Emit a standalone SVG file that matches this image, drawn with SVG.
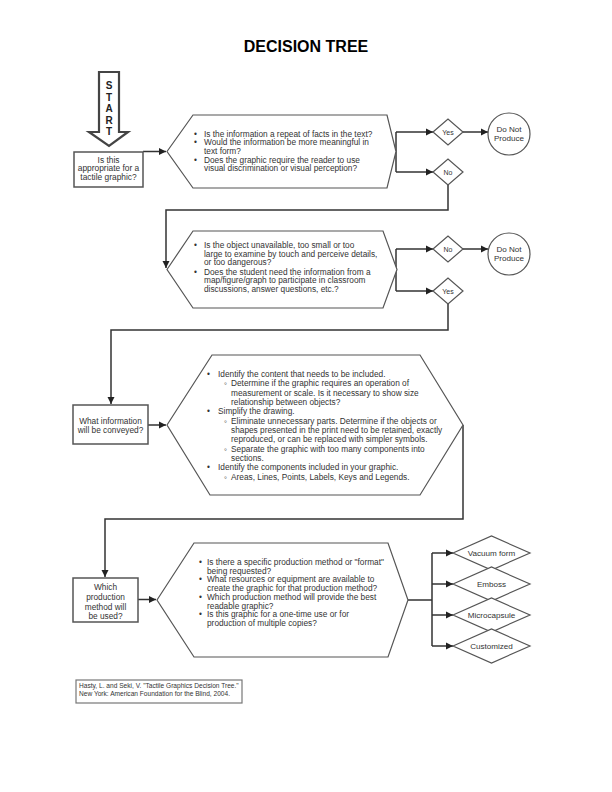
<svg xmlns="http://www.w3.org/2000/svg" width="612" height="792" viewBox="0 0 612 792">
<style>
text{font-family:"Liberation Sans",Arial,sans-serif;fill:#333}
.box{fill:#fff;stroke:#555;stroke-width:1.5}
.hex{fill:#fff;stroke:#555;stroke-width:1.2}
.dia{fill:#fff;stroke:#555;stroke-width:1.2}
.con{fill:none;stroke:#333;stroke-width:1.5}
.t{font-size:8.3px}
.b{font-size:8.4px}
.d{font-size:7px}
.p{font-size:8.1px}
.c{text-anchor:middle}
</style>
<defs>
<marker id="ah" viewBox="0 0 10 10" refX="10" refY="5" markerWidth="5" markerHeight="5" orient="auto" markerUnits="strokeWidth">
<path d="M0,0 L10,5 L0,10 z" fill="#222"/>
</marker>
</defs>
<rect width="612" height="792" fill="#fff"/>
<text x="306" y="52" class="c" style="font-size:16px;font-weight:bold;fill:#000">DECISION TREE</text>

<g id="start">
<polygon points="99,72 119,72 119,132 128,132 109,146 89,132 99,132" fill="#fff" stroke="#444" stroke-width="2.2"/>
<g style="font-size:10px;font-weight:bold" class="c">
<text x="109" y="89" style="fill:#222">S</text>
<text x="109" y="100.5" style="fill:#222">T</text>
<text x="109" y="112" style="fill:#222">A</text>
<text x="109" y="123.5" style="fill:#222">R</text>
<text x="109" y="135" style="fill:#222">T</text>
</g>
</g>

<g id="connectors">
<path class="con" d="M143,151.5 H166" marker-end="url(#ah)"/>
<path class="con" d="M396,132 V172"/>
<path class="con" d="M396,132 H433" marker-end="url(#ah)"/>
<path class="con" d="M396,172 H433" marker-end="url(#ah)"/>
<path class="con" d="M463,132 H488" marker-end="url(#ah)"/>
<path class="con" d="M448,185 V210 H166 V268" marker-end="url(#ah)"/>
<path class="con" d="M396,249 V291"/>
<path class="con" d="M396,249 H433" marker-end="url(#ah)"/>
<path class="con" d="M396,291 H433" marker-end="url(#ah)"/>
<path class="con" d="M463,249 H488" marker-end="url(#ah)"/>
<path class="con" d="M448,304 V330 H111 V404" marker-end="url(#ah)"/>
<path class="con" d="M148,425 H166" marker-end="url(#ah)"/>
<path class="con" d="M463,425 V519 H105 V577" marker-end="url(#ah)"/>
<path class="con" d="M138,599.5 H156" marker-end="url(#ah)"/>
<path class="con" d="M408,600 H432 M432,553 V646"/>
<path class="con" d="M432,553 H453" marker-end="url(#ah)"/>
<path class="con" d="M432,584 H453" marker-end="url(#ah)"/>
<path class="con" d="M432,615 H453" marker-end="url(#ah)"/>
<path class="con" d="M432,646 H453" marker-end="url(#ah)"/>
</g>

<g id="q1">
<rect class="box" x="74" y="152" width="69" height="35"/>
<text class="b c" x="108.5" y="162.5">Is this</text>
<text class="b c" x="108.5" y="171">appropriate for a</text>
<text class="b c" x="108.5" y="179.5">tactile graphic?</text>
</g>

<g id="hex1">
<polygon class="hex" points="167,151.5 193,115 387,115 396,151.5 387,188 193,188"/>
<text class="t" x="194" y="136.5">•</text>
<text class="t" x="204" y="136.5">Is the information a repeat of facts in the text?</text>
<text class="t" x="194" y="145">•</text>
<text class="t" x="204" y="145">Would the information be more meaningful in</text>
<text class="t" x="204" y="153.5">text form?</text>
<text class="t" x="194" y="162.5">•</text>
<text class="t" x="204" y="162.5">Does the graphic require the reader to use</text>
<text class="t" x="204" y="171">visual discrimination or visual perception?</text>
</g>

<g id="yes1">
<polygon class="dia" points="433,132 448,119 463,132 448,145"/>
<text class="d c" x="448" y="134.5">Yes</text>
</g>
<g id="no1">
<polygon class="dia" points="433,172 448,159 463,172 448,185"/>
<text class="d c" x="448" y="174.5">No</text>
</g>
<g id="dnp1">
<circle cx="509" cy="134" r="21" fill="#fff" stroke="#555" stroke-width="1.2"/>
<text class="p c" x="509" y="131.5">Do Not</text>
<text class="p c" x="509" y="140.5">Produce</text>
</g>

<g id="hex2">
<polygon class="hex" points="167,269.5 193,231 383,231 397,269.5 383,308 193,308"/>
<text class="t" x="194" y="248">•</text>
<text class="t" x="204" y="248">Is the object unavailable, too small or too</text>
<text class="t" x="204" y="256.5">large to examine by touch and perceive details,</text>
<text class="t" x="204" y="265">or too dangerous?</text>
<text class="t" x="194" y="274.5">•</text>
<text class="t" x="204" y="274.5">Does the student need the information from a</text>
<text class="t" x="204" y="283">map/figure/graph to participate in classroom</text>
<text class="t" x="204" y="291.5">discussions, answer questions, etc.?</text>
</g>

<g id="no2">
<polygon class="dia" points="433,249 448,236 463,249 448,262"/>
<text class="d c" x="448" y="251.5">No</text>
</g>
<g id="yes2">
<polygon class="dia" points="433,291 448,278 463,291 448,304"/>
<text class="d c" x="448" y="293.5">Yes</text>
</g>
<g id="dnp2">
<circle cx="509" cy="254" r="21" fill="#fff" stroke="#555" stroke-width="1.2"/>
<text class="p c" x="509" y="251.5">Do Not</text>
<text class="p c" x="509" y="260.5">Produce</text>
</g>

<g id="q3">
<rect class="box" x="73" y="405" width="75" height="39"/>
<text class="t c" x="110.5" y="423.5">What information</text>
<text class="t c" x="110.5" y="433">will be conveyed?</text>
</g>

<g id="hex3">
<polygon class="hex" points="167,425 212,355 420,355 463,425 420,495 210,495"/>
<g class="t">
<text x="207" y="376.5">•</text><text x="218" y="376.5">Identify the content that needs to be included.</text>
<text x="224" y="386">◦</text><text x="231" y="386">Determine if the graphic requires an operation of</text>
<text x="231" y="395.5">measurement or scale.  Is it necessary to show size</text>
<text x="231" y="404.5">relationship between objects?</text>
<text x="207" y="414">•</text><text x="218" y="414">Simplify the drawing.</text>
<text x="224" y="423.5">◦</text><text x="231" y="423.5">Eliminate unnecessary parts. Determine if the objects or</text>
<text x="231" y="433">shapes presented in the print need to be retained, exactly</text>
<text x="231" y="442">reproduced, or can be replaced with simpler symbols.</text>
<text x="224" y="451.5">◦</text><text x="231" y="451.5">Separate the graphic with too many components into</text>
<text x="231" y="461">sections.</text>
<text x="207" y="470">•</text><text x="218" y="470">Identify the components included in your graphic.</text>
<text x="224" y="479.5">◦</text><text x="231" y="479.5">Areas, Lines, Points, Labels, Keys and Legends.</text>
</g>
</g>

<g id="q4">
<rect class="box" x="73" y="578" width="65" height="44"/>
<text class="t c" x="105.5" y="590">Which</text>
<text class="t c" x="105.5" y="600">production</text>
<text class="t c" x="105.5" y="609.5">method will</text>
<text class="t c" x="105.5" y="619">be used?</text>
</g>

<g id="hex4">
<polygon class="hex" points="157,600 194,543 388,543 408,600 388,657 194,657"/>
<g class="t">
<text x="199" y="565">•</text><text x="207" y="565">Is there a specific production method or "format"</text>
<text x="207" y="573.7">being requested?</text>
<text x="199" y="582.4">•</text><text x="207" y="582.4">What resources or equipment are available to</text>
<text x="207" y="591">create the graphic for that production method?</text>
<text x="199" y="599.8">•</text><text x="207" y="599.8">Which production method will provide the best</text>
<text x="207" y="608.5">readable graphic?</text>
<text x="199" y="617.2">•</text><text x="207" y="617.2">Is this graphic for a one-time use or for</text>
<text x="207" y="626">production of multiple copies?</text>
</g>
</g>

<g id="vacuum">
<polygon class="dia" points="453,553 491.5,536 530,553 491.5,570"/>
<text class="p c" x="491.5" y="556">Vacuum form</text>
</g>
<g id="emboss">
<polygon class="dia" points="453,584 491.5,567 530,584 491.5,601"/>
<text class="p c" x="491.5" y="587">Emboss</text>
</g>
<g id="micro">
<polygon class="dia" points="453,615 491.5,598 530,615 491.5,632"/>
<text class="p c" x="491.5" y="618">Microcapsule</text>
</g>
<g id="custom">
<polygon class="dia" points="453,646 491.5,629 530,646 491.5,663"/>
<text class="p c" x="491.5" y="649">Customized</text>
</g>

<g id="citation">
<rect x="76" y="680" width="166" height="23" fill="#fff" stroke="#777" stroke-width="1.2"/>
<text x="79" y="688" style="font-size:6.6px">Hasty, L. and Seki, V. "Tactile Graphics Decision Tree."</text>
<text x="79" y="695.5" style="font-size:6.6px">New York: American Foundation for the Blind, 2004.</text>
</g>
</svg>
